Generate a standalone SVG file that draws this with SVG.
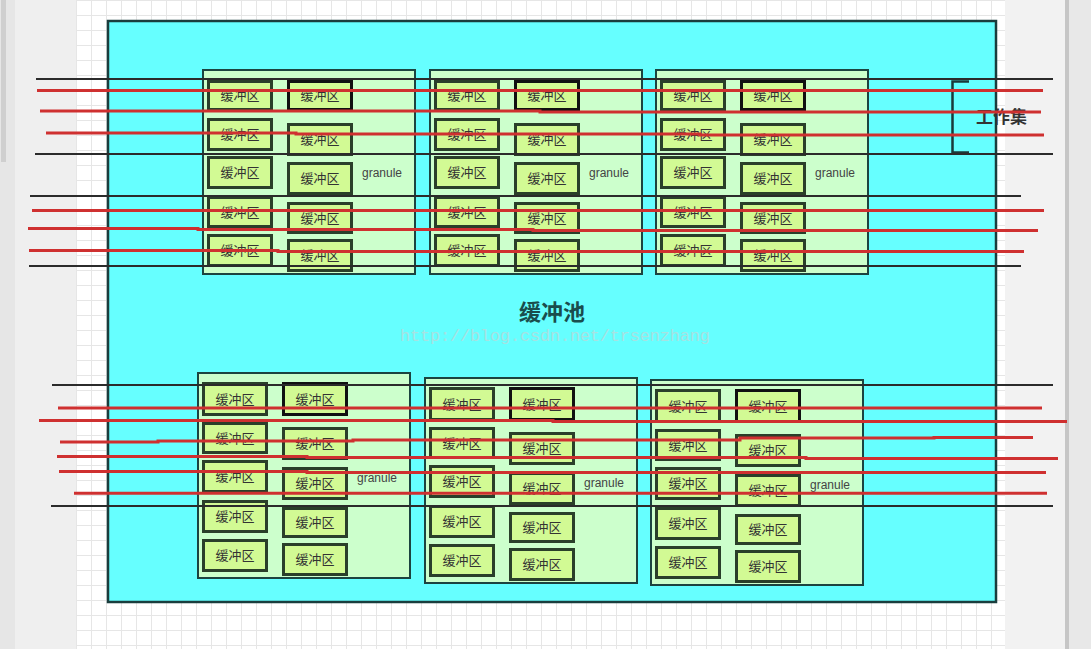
<svg xmlns="http://www.w3.org/2000/svg" width="1091" height="649" viewBox="0 0 1091 649">
<defs>
<style>
.gran{fill:#ccffcc;stroke:#1c4440;stroke-width:2}
.buf{fill:#d2fa94;stroke:#2a3f2a;stroke-width:3}
.dk{stroke:#111}
.bt{font-family:"Noto Sans CJK SC","Noto Sans",sans-serif;font-size:13px;fill:#333;text-anchor:middle}
.gt{font-family:"Liberation Sans",Arial,sans-serif;font-size:12px;fill:#444}
.bl{fill:none;stroke:#2b2b2b;stroke-width:2}
.rd{fill:none;stroke:#cf3030;stroke-width:3}
</style>
<pattern id="grid" patternUnits="userSpaceOnUse" x="76" y="0" width="15" height="15">
<path d="M0 0.5H15M0.5 0V15" stroke="#e6e6e6" stroke-width="1" fill="none"/>
</pattern>
</defs>
<g id="background">
<rect x="0" y="0" width="1091" height="649" fill="#efefef"/>
<rect x="0" y="0" width="15" height="649" fill="#e6e6e6"/>
<rect x="1" y="0" width="5" height="162" fill="#cfcfcf"/>
<rect x="76" y="0" width="929" height="649" fill="#ffffff"/>
<rect x="76" y="0" width="929" height="649" fill="url(#grid)"/>
<rect x="1005" y="0" width="60" height="649" fill="#f2f2f2"/>
<rect x="1065" y="0" width="4" height="649" fill="#c6c6c6"/>
<rect x="1069" y="0" width="22" height="649" fill="#e8e8e8"/>
</g>
<g id="pool">
<rect x="108" y="21" width="888" height="581" fill="#66ffff" stroke="#1a3d3d" stroke-width="2.5"/>
<text x="552" y="320" font-family="Noto Sans CJK SC,sans-serif" font-size="22" font-weight="bold" fill="#1a4d4d" text-anchor="middle">缓冲池</text>
<text x="400" y="341" font-family="Liberation Mono,monospace" font-size="17" fill="#a6e2e2" textLength="310">http://blog.csdn.net/trsenzhang</text>
</g>
<g id="granule-t1" transform="translate(202,69)">
<rect class="gran" x="1" y="1" width="212" height="204"/>
<g id="buf-t1-1"><rect class="buf" x="6.5" y="12.5" width="63" height="28"/><text class="bt" x="38" y="31">缓冲区</text></g>
<g id="buf-t1-2"><rect class="buf" x="6.5" y="50.5" width="63" height="30"/><text class="bt" x="38" y="70">缓冲区</text></g>
<g id="buf-t1-3"><rect class="buf" x="6.5" y="88.5" width="63" height="30"/><text class="bt" x="38" y="108">缓冲区</text></g>
<g id="buf-t1-4"><rect class="buf" x="6.5" y="128.5" width="63" height="29"/><text class="bt" x="38" y="147.5">缓冲区</text></g>
<g id="buf-t1-5"><rect class="buf" x="6.5" y="166.5" width="63" height="30"/><text class="bt" x="38" y="186">缓冲区</text></g>
<g id="buf-t1-6"><rect class="buf dk" x="86.5" y="12.5" width="63" height="28"/><text class="bt" x="118" y="31">缓冲区</text></g>
<g id="buf-t1-7"><rect class="buf" x="86.5" y="55.5" width="63" height="30"/><text class="bt" x="118" y="75">缓冲区</text></g>
<g id="buf-t1-8"><rect class="buf" x="86.5" y="94.5" width="63" height="30"/><text class="bt" x="118" y="114">缓冲区</text></g>
<g id="buf-t1-9"><rect class="buf" x="86.5" y="134.5" width="63" height="29"/><text class="bt" x="118" y="153.5">缓冲区</text></g>
<g id="buf-t1-10"><rect class="buf" x="86.5" y="171.5" width="63" height="30"/><text class="bt" x="118" y="191">缓冲区</text></g>
<text class="gt" x="160" y="108">granule</text>
</g>
<g id="granule-t2" transform="translate(429,69)">
<rect class="gran" x="1" y="1" width="212" height="204"/>
<g id="buf-t2-1"><rect class="buf" x="6.5" y="12.5" width="63" height="28"/><text class="bt" x="38" y="31">缓冲区</text></g>
<g id="buf-t2-2"><rect class="buf" x="6.5" y="50.5" width="63" height="30"/><text class="bt" x="38" y="70">缓冲区</text></g>
<g id="buf-t2-3"><rect class="buf" x="6.5" y="88.5" width="63" height="30"/><text class="bt" x="38" y="108">缓冲区</text></g>
<g id="buf-t2-4"><rect class="buf" x="6.5" y="128.5" width="63" height="29"/><text class="bt" x="38" y="147.5">缓冲区</text></g>
<g id="buf-t2-5"><rect class="buf" x="6.5" y="166.5" width="63" height="30"/><text class="bt" x="38" y="186">缓冲区</text></g>
<g id="buf-t2-6"><rect class="buf dk" x="86.5" y="12.5" width="63" height="28"/><text class="bt" x="118" y="31">缓冲区</text></g>
<g id="buf-t2-7"><rect class="buf" x="86.5" y="55.5" width="63" height="30"/><text class="bt" x="118" y="75">缓冲区</text></g>
<g id="buf-t2-8"><rect class="buf" x="86.5" y="94.5" width="63" height="30"/><text class="bt" x="118" y="114">缓冲区</text></g>
<g id="buf-t2-9"><rect class="buf" x="86.5" y="134.5" width="63" height="29"/><text class="bt" x="118" y="153.5">缓冲区</text></g>
<g id="buf-t2-10"><rect class="buf" x="86.5" y="171.5" width="63" height="30"/><text class="bt" x="118" y="191">缓冲区</text></g>
<text class="gt" x="160" y="108">granule</text>
</g>
<g id="granule-t3" transform="translate(655,69)">
<rect class="gran" x="1" y="1" width="212" height="204"/>
<g id="buf-t3-1"><rect class="buf" x="6.5" y="12.5" width="63" height="28"/><text class="bt" x="38" y="31">缓冲区</text></g>
<g id="buf-t3-2"><rect class="buf" x="6.5" y="50.5" width="63" height="30"/><text class="bt" x="38" y="70">缓冲区</text></g>
<g id="buf-t3-3"><rect class="buf" x="6.5" y="88.5" width="63" height="30"/><text class="bt" x="38" y="108">缓冲区</text></g>
<g id="buf-t3-4"><rect class="buf" x="6.5" y="128.5" width="63" height="29"/><text class="bt" x="38" y="147.5">缓冲区</text></g>
<g id="buf-t3-5"><rect class="buf" x="6.5" y="166.5" width="63" height="30"/><text class="bt" x="38" y="186">缓冲区</text></g>
<g id="buf-t3-6"><rect class="buf dk" x="86.5" y="12.5" width="63" height="28"/><text class="bt" x="118" y="31">缓冲区</text></g>
<g id="buf-t3-7"><rect class="buf" x="86.5" y="55.5" width="63" height="30"/><text class="bt" x="118" y="75">缓冲区</text></g>
<g id="buf-t3-8"><rect class="buf" x="86.5" y="94.5" width="63" height="30"/><text class="bt" x="118" y="114">缓冲区</text></g>
<g id="buf-t3-9"><rect class="buf" x="86.5" y="134.5" width="63" height="29"/><text class="bt" x="118" y="153.5">缓冲区</text></g>
<g id="buf-t3-10"><rect class="buf" x="86.5" y="171.5" width="63" height="30"/><text class="bt" x="118" y="191">缓冲区</text></g>
<text class="gt" x="160" y="108">granule</text>
</g>
<g id="granule-b1" transform="translate(197,372)">
<rect class="gran" x="1" y="1" width="212" height="205"/>
<g id="buf-b1-1"><rect class="buf" x="6.5" y="11.5" width="63" height="31"/><text class="bt" x="38" y="31.5">缓冲区</text></g>
<g id="buf-b1-2"><rect class="buf" x="6.5" y="51.5" width="63" height="29"/><text class="bt" x="38" y="70.5">缓冲区</text></g>
<g id="buf-b1-3"><rect class="buf" x="6.5" y="89.5" width="63" height="30"/><text class="bt" x="38" y="109">缓冲区</text></g>
<g id="buf-b1-4"><rect class="buf" x="6.5" y="129.5" width="63" height="30"/><text class="bt" x="38" y="149">缓冲区</text></g>
<g id="buf-b1-5"><rect class="buf" x="6.5" y="168.5" width="63" height="30"/><text class="bt" x="38" y="188">缓冲区</text></g>
<g id="buf-b1-6"><rect class="buf dk" x="86.5" y="11.5" width="63" height="31"/><text class="bt" x="118" y="31.5">缓冲区</text></g>
<g id="buf-b1-7"><rect class="buf" x="86.5" y="56.5" width="63" height="30"/><text class="bt" x="118" y="76">缓冲区</text></g>
<g id="buf-b1-8"><rect class="buf" x="86.5" y="96.5" width="63" height="30"/><text class="bt" x="118" y="116">缓冲区</text></g>
<g id="buf-b1-9"><rect class="buf" x="86.5" y="136.5" width="63" height="28"/><text class="bt" x="118" y="155">缓冲区</text></g>
<g id="buf-b1-10"><rect class="buf" x="86.5" y="172.5" width="63" height="30"/><text class="bt" x="118" y="192">缓冲区</text></g>
<text class="gt" x="160" y="110">granule</text>
</g>
<g id="granule-b2" transform="translate(424,377)">
<rect class="gran" x="1" y="1" width="212" height="205"/>
<g id="buf-b2-1"><rect class="buf" x="6.5" y="11.5" width="63" height="31"/><text class="bt" x="38" y="31.5">缓冲区</text></g>
<g id="buf-b2-2"><rect class="buf" x="6.5" y="51.5" width="63" height="29"/><text class="bt" x="38" y="70.5">缓冲区</text></g>
<g id="buf-b2-3"><rect class="buf" x="6.5" y="89.5" width="63" height="30"/><text class="bt" x="38" y="109">缓冲区</text></g>
<g id="buf-b2-4"><rect class="buf" x="6.5" y="129.5" width="63" height="30"/><text class="bt" x="38" y="149">缓冲区</text></g>
<g id="buf-b2-5"><rect class="buf" x="6.5" y="168.5" width="63" height="30"/><text class="bt" x="38" y="188">缓冲区</text></g>
<g id="buf-b2-6"><rect class="buf dk" x="86.5" y="11.5" width="63" height="31"/><text class="bt" x="118" y="31.5">缓冲区</text></g>
<g id="buf-b2-7"><rect class="buf" x="86.5" y="56.5" width="63" height="30"/><text class="bt" x="118" y="76">缓冲区</text></g>
<g id="buf-b2-8"><rect class="buf" x="86.5" y="96.5" width="63" height="30"/><text class="bt" x="118" y="116">缓冲区</text></g>
<g id="buf-b2-9"><rect class="buf" x="86.5" y="136.5" width="63" height="28"/><text class="bt" x="118" y="155">缓冲区</text></g>
<g id="buf-b2-10"><rect class="buf" x="86.5" y="172.5" width="63" height="30"/><text class="bt" x="118" y="192">缓冲区</text></g>
<text class="gt" x="160" y="110">granule</text>
</g>
<g id="granule-b3" transform="translate(650,379)">
<rect class="gran" x="1" y="1" width="212" height="205"/>
<g id="buf-b3-1"><rect class="buf" x="6.5" y="11.5" width="63" height="31"/><text class="bt" x="38" y="31.5">缓冲区</text></g>
<g id="buf-b3-2"><rect class="buf" x="6.5" y="51.5" width="63" height="29"/><text class="bt" x="38" y="70.5">缓冲区</text></g>
<g id="buf-b3-3"><rect class="buf" x="6.5" y="89.5" width="63" height="30"/><text class="bt" x="38" y="109">缓冲区</text></g>
<g id="buf-b3-4"><rect class="buf" x="6.5" y="129.5" width="63" height="30"/><text class="bt" x="38" y="149">缓冲区</text></g>
<g id="buf-b3-5"><rect class="buf" x="6.5" y="168.5" width="63" height="30"/><text class="bt" x="38" y="188">缓冲区</text></g>
<g id="buf-b3-6"><rect class="buf dk" x="86.5" y="11.5" width="63" height="31"/><text class="bt" x="118" y="31.5">缓冲区</text></g>
<g id="buf-b3-7"><rect class="buf" x="86.5" y="56.5" width="63" height="30"/><text class="bt" x="118" y="76">缓冲区</text></g>
<g id="buf-b3-8"><rect class="buf" x="86.5" y="96.5" width="63" height="30"/><text class="bt" x="118" y="116">缓冲区</text></g>
<g id="buf-b3-9"><rect class="buf" x="86.5" y="136.5" width="63" height="28"/><text class="bt" x="118" y="155">缓冲区</text></g>
<g id="buf-b3-10"><rect class="buf" x="86.5" y="172.5" width="63" height="30"/><text class="bt" x="118" y="192">缓冲区</text></g>
<text class="gt" x="160" y="110">granule</text>
</g>
<g id="working-set">
<path d="M969 81.5H952.5V152.5H969" fill="none" stroke="#1a3a3a" stroke-width="2.5"/>
<text x="976" y="122.5" font-family="Noto Sans CJK SC,sans-serif" font-size="17" font-weight="bold" fill="#333">工作集</text>
</g>
<g id="connectors">
<path class="bl" d="M36 79H1053M35 154H1053M30 196H1021M29 266H1021M52 385H1053M51 506H1053"/>
<path class="rd" d="M37 90.5H1043"/>
<path class="rd" d="M40 111H540V112H1041"/>
<path class="rd" d="M46 133H296V134H700V135H1044"/>
<path class="rd" d="M32 210.5H1044"/>
<path class="rd" d="M28 228.5H198V229.5H533V230.5H1038"/>
<path class="rd" d="M29 250.5H278V251.5H1024"/>
<path class="rd" d="M58 408H1042"/>
<path class="rd" d="M39 420.5H553V421.5H1067"/>
<path class="rd" d="M60 442H158V441H353V440H740V438H934V437.5H1033"/>
<path class="rd" d="M57 456.5H307V457.5H806V458.5H1058"/>
<path class="rd" d="M59 471.5H307V472.5H1046"/>
<path class="rd" d="M74 493.3H1047"/>
</g>
</svg>
